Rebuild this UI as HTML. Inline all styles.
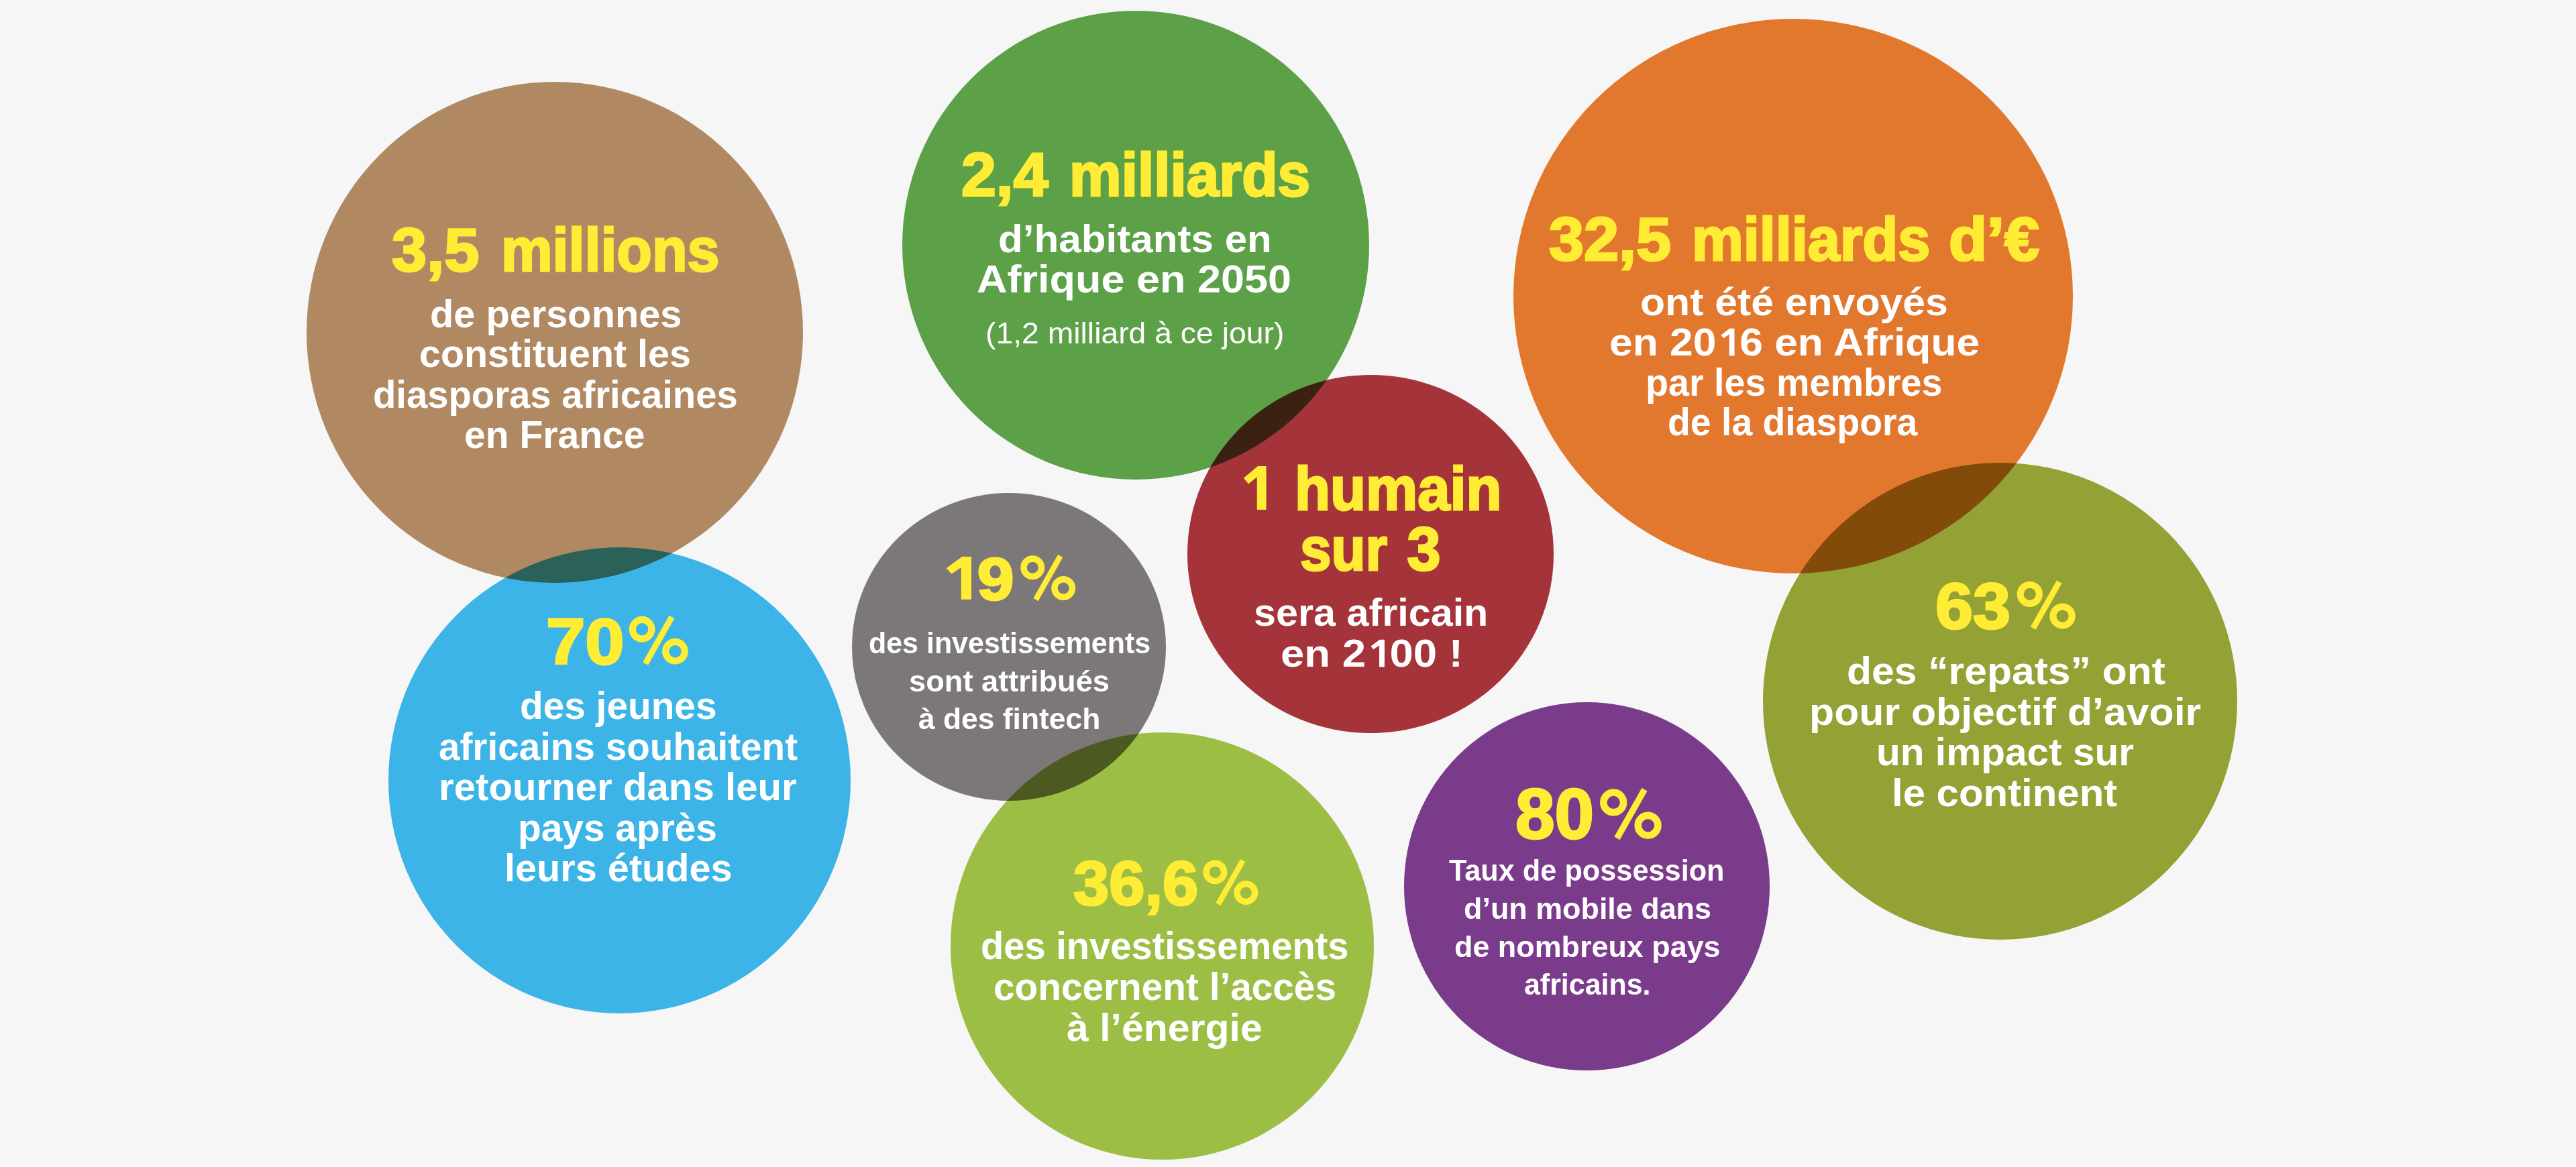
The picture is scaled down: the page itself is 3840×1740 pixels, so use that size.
<!DOCTYPE html>
<html lang="fr"><head><meta charset="utf-8"><title>Diaspora africaine</title>
<style>
html,body{margin:0;padding:0}
body{width:3840px;height:1740px;background:#f6f6f6;position:relative;overflow:hidden;font-family:"Liberation Sans",sans-serif}
#g{position:absolute;left:0;top:0;width:3840px;height:1740px;isolation:isolate}
.c{position:absolute;border-radius:50%;mix-blend-mode:multiply}
.t{position:absolute;white-space:nowrap;line-height:1;transform-origin:0 0}
.p{position:absolute;overflow:visible}
.p circle{fill:none;stroke:#ffec34;stroke-width:0.147}
.p line{stroke:#ffec34}
.g1{width:.556em;height:.8em;vertical-align:baseline;fill:currentColor;overflow:visible}
.sH{font-size:90px;font-weight:bold;-webkit-text-stroke:3px #ffec34;color:#ffec34}
.sN70{font-size:96.7px;font-weight:bold;-webkit-text-stroke:3px #ffec34;color:#ffec34}
.sN64{font-size:88.5px;font-weight:bold;-webkit-text-stroke:3px #ffec34;color:#ffec34}
.sN66{font-size:93px;font-weight:bold;-webkit-text-stroke:3px #ffec34;color:#ffec34}
.sN74{font-size:105.5px;font-weight:bold;-webkit-text-stroke:3px #ffec34;color:#ffec34}
.sB{font-size:58px;font-weight:bold;color:#ffffff}
.sS{font-size:43.5px;font-weight:bold;color:#ffffff}
.sP{font-size:45px;font-weight:normal;color:#ffffff}
</style></head><body>
<div id="g"><div class="c" style="left:457px;top:122px;width:740px;height:747px;background:#b08962"></div><div class="c" style="left:1345.3px;top:16px;width:695.5px;height:699px;background:#5ca147"></div><div class="c" style="left:2256.3px;top:28px;width:834.2px;height:827px;background:#e2772e"></div><div class="c" style="left:579px;top:816px;width:689px;height:694.5px;background:#3cb4e8"></div><div class="c" style="left:1270px;top:734.5px;width:468px;height:459.2px;background:#7c7879"></div><div class="c" style="left:1769.8px;top:559.4px;width:546.7px;height:533.9px;background:#a4343a"></div><div class="c" style="left:1417px;top:1091.7px;width:631px;height:637.8px;background:#9cbe44"></div><div class="c" style="left:2092.6px;top:1046.5px;width:545.8px;height:549px;background:#7a3b8a"></div><div class="c" style="left:2627.8px;top:689.5px;width:707px;height:711.5px;background:#93a135"></div></div>
<div class="t sH" style="left:584.06px;top:327.8px;transform:scaleX(1.0415)">3,5</div>
<div class="t sH" style="left:746.67px;top:327.8px;transform:scaleX(0.9572)">millions</div>
<div class="t sB" style="left:640.71px;top:438.5px;transform:scaleX(0.9954)">de personnes</div>
<div class="t sB" style="left:625.42px;top:497.8px;transform:scaleX(0.9891)">constituent les</div>
<div class="t sB" style="left:555.76px;top:558.9px;transform:scaleX(0.9693)">diasporas africaines</div>
<div class="t sB" style="left:691.83px;top:619.1px;transform:scaleX(0.9833)">en France</div>
<div class="t sH" style="left:1432.83px;top:215.8px;transform:scaleX(1.0363)">2,4</div>
<div class="t sH" style="left:1593.62px;top:215.8px;transform:scaleX(0.9701)">milliards</div>
<div class="t sB" style="left:1488.43px;top:327.1px;transform:scaleX(1.0374)">d’habitants en</div>
<div class="t sB" style="left:1456.03px;top:387.4px;transform:scaleX(1.0860)">Afrique en 2050</div>
<div class="t sP" style="left:1468.61px;top:473.7px;transform:scaleX(1.0293)">(1,2 milliard à ce jour)</div>
<div class="t sH" style="left:2309.26px;top:312.2px;transform:scaleX(1.0399)">32,5</div>
<div class="t sH" style="left:2521.66px;top:312.2px;transform:scaleX(0.9596)">milliards</div>
<div class="t sH" style="left:2905.42px;top:312.2px;transform:scaleX(1.0383)">d’€</div>
<div class="t sB" style="left:2445.41px;top:421px;transform:scaleX(1.0465)">ont été envoyés</div>
<div class="t sB" style="left:2398.85px;top:481px;transform:scaleX(1.0752)">en 20<svg class="g1" role="img" aria-label="1" viewBox="0 -800 556 800"><path d="M323.5,-700H439.5V0H315.5V-552L178.5,-450L116.5,-528Z"/></svg>6 en Afrique</div>
<div class="t sB" style="left:2453.06px;top:541px;transform:scaleX(0.9598)">par les membres</div>
<div class="t sB" style="left:2486.39px;top:600.4px;transform:scaleX(0.9546)">de la diaspora</div>
<div class="t sN70" style="left:813.74px;top:907.6px;transform:scaleX(1.0853)">70</div>
<div class="t sB" style="left:775.24px;top:1023.2px;transform:scaleX(0.9790)">des jeunes</div>
<div class="t sB" style="left:653.55px;top:1084.1px;transform:scaleX(0.9765)">africains souhaitent</div>
<div class="t sB" style="left:653.69px;top:1143.9px;transform:scaleX(1.0036)">retourner dans leur</div>
<div class="t sB" style="left:772.08px;top:1204.7px;transform:scaleX(0.9798)">pays après</div>
<div class="t sB" style="left:752.22px;top:1264.5px;transform:scaleX(0.9940)">leurs études</div>
<div class="t sN64" style="left:1401.8px;top:819.9px;transform:scaleX(1.1124)"><svg class="g1" role="img" aria-label="1" viewBox="0 -800 556 800"><path d="M326.5,-721H467.5V0H312.5V-541L169.5,-429L88.5,-526Z"/></svg>9</div>
<div class="t sS" style="left:1294.63px;top:937.8px;transform:scaleX(0.9874)">des investissements</div>
<div class="t sS" style="left:1354.82px;top:994.8px;transform:scaleX(1.0394)">sont attribués</div>
<div class="t sS" style="left:1368.98px;top:1050.7px;transform:scaleX(1.0202)">à des fintech</div>
<div class="t sH" style="left:1846.29px;top:684.1px;transform:scaleX(0.9882)"><svg class="g1" role="img" aria-label="1" viewBox="0 -800 556 800"><path d="M326.5,-721H467.5V0H312.5V-541L169.5,-429L88.5,-526Z"/></svg></div>
<div class="t sH" style="left:1930.08px;top:684.1px;transform:scaleX(0.9643)">humain</div>
<div class="t sH" style="left:1938.37px;top:774.3px;transform:scaleX(0.9273)">sur</div>
<div class="t sH" style="left:2097.5px;top:774.3px;transform:scaleX(1.0000)">3</div>
<div class="t sB" style="left:1868.73px;top:884px;transform:scaleX(1.0221)">sera africain</div>
<div class="t sB" style="left:1908.51px;top:945.3px;transform:scaleX(1.0950)">en 2<svg class="g1" role="img" aria-label="1" viewBox="0 -800 556 800"><path d="M323.5,-700H439.5V0H315.5V-552L178.5,-450L116.5,-528Z"/></svg>00 !</div>
<div class="t sN66" style="left:1599.67px;top:1270.5px;transform:scaleX(1.0292)">36,6</div>
<div class="t sB" style="left:1462.47px;top:1381.4px;transform:scaleX(0.9668)">des investissements</div>
<div class="t sB" style="left:1481.24px;top:1441.8px;transform:scaleX(0.9784)">concernent l’accès</div>
<div class="t sB" style="left:1589.57px;top:1502.7px;transform:scaleX(1.0166)">à l’énergie</div>
<div class="t sN74" style="left:2259px;top:1161px;transform:scaleX(0.9991)">80</div>
<div class="t sS" style="left:2160px;top:1276.9px;transform:scaleX(0.9951)">Taux de possession</div>
<div class="t sS" style="left:2182.04px;top:1334px;transform:scaleX(1.0316)">d’un mobile dans</div>
<div class="t sS" style="left:2167.64px;top:1390.7px;transform:scaleX(1.0318)">de nombreux pays</div>
<div class="t sS" style="left:2272.11px;top:1446.5px;transform:scaleX(0.9866)">africains.</div>
<div class="t sN70" style="left:2885.01px;top:855px;transform:scaleX(1.0437)">63</div>
<div class="t sB" style="left:2752.51px;top:970.8px;transform:scaleX(1.0451)">des “repats” ont</div>
<div class="t sB" style="left:2696.61px;top:1032.1px;transform:scaleX(1.0479)">pour objectif d’avoir</div>
<div class="t sB" style="left:2796.76px;top:1091.8px;transform:scaleX(1.0101)">un impact sur</div>
<div class="t sB" style="left:2820.27px;top:1153.3px;transform:scaleX(1.0330)">le continent</div>
<svg class="p" role="img" aria-label="%" style="left:931.29px;top:910.01px" width="103.81" height="86.51" viewBox="-0.1 -1.15 1.5 1.25"><circle cx="0.277" cy="-0.742" r="0.2065"/><circle cx="0.99" cy="-0.265" r="0.2065"/><line x1="0.919" y1="-1.01" x2="0.35" y2="0.0" stroke-width="0.13"/></svg>
<svg class="p" role="img" aria-label="%" style="left:1515.05px;top:819.82px" width="96.62" height="80.52" viewBox="-0.1 -1.15 1.5 1.25"><circle cx="0.277" cy="-0.742" r="0.2065"/><circle cx="0.99" cy="-0.265" r="0.2065"/><line x1="0.919" y1="-1.01" x2="0.35" y2="0.0" stroke-width="0.13"/></svg>
<svg class="p" role="img" aria-label="%" style="left:1786.94px;top:1274.33px" width="96.74" height="80.62" viewBox="-0.1 -1.15 1.5 1.25"><circle cx="0.277" cy="-0.742" r="0.2065"/><circle cx="0.99" cy="-0.265" r="0.2065"/><line x1="0.919" y1="-1.01" x2="0.35" y2="0.0" stroke-width="0.13"/></svg>
<svg class="p" role="img" aria-label="%" style="left:2377.61px;top:1167.07px" width="108.17" height="90.14" viewBox="-0.1 -1.15 1.5 1.25"><circle cx="0.277" cy="-0.742" r="0.2065"/><circle cx="0.99" cy="-0.265" r="0.2065"/><line x1="0.919" y1="-1.01" x2="0.35" y2="0.0" stroke-width="0.13"/></svg>
<svg class="p" role="img" aria-label="%" style="left:3000.46px;top:858.32px" width="102.63" height="85.53" viewBox="-0.1 -1.15 1.5 1.25"><circle cx="0.277" cy="-0.742" r="0.2065"/><circle cx="0.99" cy="-0.265" r="0.2065"/><line x1="0.919" y1="-1.01" x2="0.35" y2="0.0" stroke-width="0.13"/></svg>
</body></html>
